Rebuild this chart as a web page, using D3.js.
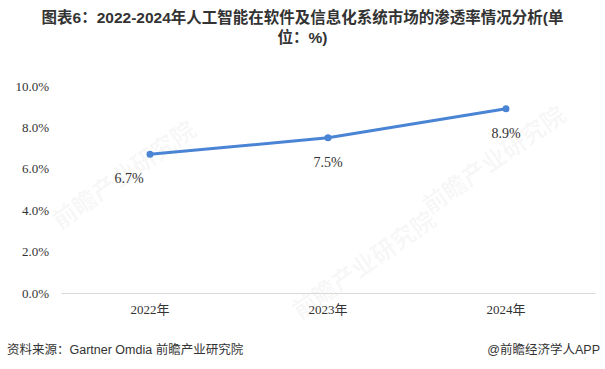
<!DOCTYPE html>
<html><head><meta charset="utf-8">
<script src="https://cdn.jsdelivr.net/npm/d3@7"></script>
<style>body{margin:0;background:#fff}svg{display:block}</style>
</head><body>
<svg id="c" width="605" height="369"></svg>
<script>
const categories = ["2022年", "2023年", "2024年"];
const values = [6.7, 7.5, 8.9];
const yTicks = [0, 2, 4, 6, 8, 10];
const titleLines = ["图表6：2022-2024年人工智能在软件及信息化系统市场的渗透率情况分析(单", "位：%)"];
const sourceText = "资料来源：Gartner Omdia 前瞻产业研究院";
const brandText = "@前瞻经济学人APP";

(function () {
const svg = d3.select("#c");
const W = 605, H = 369;
const mLeft = 61, mRight = 595, mTop = 86, mBottom = 293;

svg.append("rect").attr("width", W).attr("height", H).attr("fill", "#fff");

// watermarks
const wm = [[60, 230], [300, 320], [430, 215]];
wm.forEach(([px, py]) => {
  svg.append("text").attr("transform", `translate(${px},${py}) rotate(-35)`)
    .attr("font-family", "Noto Sans CJK SC").attr("font-size", 24).attr("font-weight", "bold")
    .attr("fill", "#000").attr("fill-opacity", 0.045).text("前瞻产业研究院");
});

const x = d3.scaleBand().domain(categories).range([mLeft, mRight]);
const y = d3.scaleLinear().domain([0, 10]).range([mBottom, mTop]);

// title
svg.append("g").selectAll("text").data(titleLines).join("text")
  .attr("x", W / 2).attr("y", (d, i) => 23 + i * 20)
  .attr("text-anchor", "middle")
  .attr("font-family", "Liberation Sans, Noto Sans CJK SC, sans-serif")
  .attr("font-size", 15.5).attr("font-weight", "bold").attr("fill", "#333")
  .text(d => d);

// y axis
const yAxis = svg.append("g").attr("transform", `translate(${mLeft},0)`)
  .call(d3.axisLeft(y).tickValues(yTicks).tickFormat(d => d.toFixed(1) + "%").tickSize(0).tickPadding(12));
yAxis.select(".domain").remove();
yAxis.selectAll("text").attr("font-family", "Liberation Serif, serif").attr("font-size", 13).attr("fill", "#333");

// x axis
const xAxis = svg.append("g").attr("transform", `translate(0,${mBottom})`)
  .call(d3.axisBottom(x).tickSize(0).tickPadding(12));
xAxis.select(".domain").attr("stroke", "#d9d9d9");
xAxis.selectAll("text").attr("font-family", "Liberation Serif, Noto Sans CJK SC, serif").attr("font-size", 13).attr("fill", "#333");

// line
const cx = d => x(d) + x.bandwidth() / 2;
const data = categories.map((c, i) => ({c, v: values[i]}));
svg.append("path").datum(data)
  .attr("d", d3.line().x(d => cx(d.c)).y(d => y(d.v)))
  .attr("fill", "none").attr("stroke", "#4a84d4").attr("stroke-width", 3);
svg.append("g").selectAll("circle").data(data).join("circle")
  .attr("cx", d => cx(d.c)).attr("cy", d => y(d.v)).attr("r", 3.5).attr("fill", "#4a84d4");
svg.append("g").selectAll("text").data(data).join("text")
  .attr("x", (d, i) => cx(d.c) - (i === 0 ? 21 : 0)).attr("y", d => y(d.v) + 29)
  .attr("text-anchor", "middle").attr("font-family", "Liberation Serif, serif")
  .attr("font-size", 14).attr("fill", "#333").text(d => d.v.toFixed(1) + "%");

// footer
svg.append("text").attr("x", 7).attr("y", 354)
  .attr("font-family", "Liberation Sans, Noto Sans CJK SC, sans-serif").attr("font-size", 12.5).attr("fill", "#333")
  .text(sourceText);
svg.append("text").attr("x", 600).attr("y", 354).attr("text-anchor", "end")
  .attr("font-family", "Liberation Sans, Noto Sans CJK SC, sans-serif").attr("font-size", 12.5).attr("fill", "#333")
  .text(brandText);
})();
</script>
</body></html>
